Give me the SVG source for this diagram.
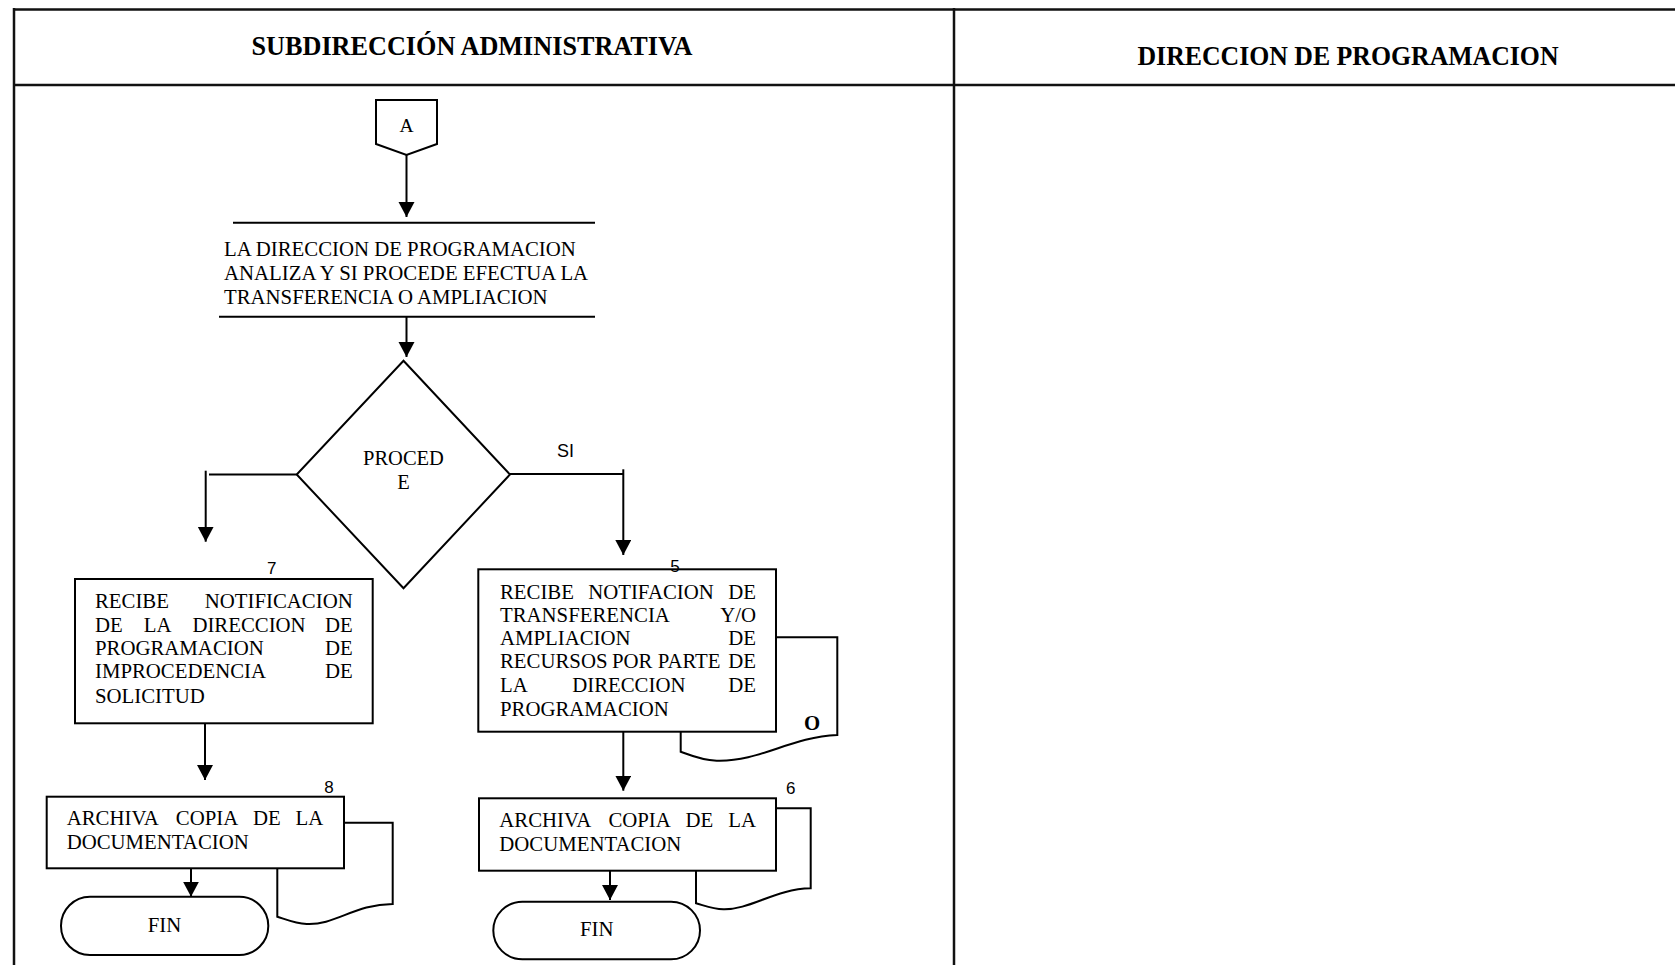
<svg xmlns="http://www.w3.org/2000/svg" width="1675" height="965" viewBox="0 0 1675 965">
  <style>
    .frame { stroke: #111; stroke-width: 2.5; fill: none; }
    .shape { stroke: #000; stroke-width: 2; fill: #fff; }
    .doc { stroke: #000; stroke-width: 2; fill: #fff; }
    .conn { stroke: #000; stroke-width: 2; fill: none; }
    .hdr { font-family: "Liberation Serif", "Times New Roman", serif; font-weight: bold; font-size: 28px; fill: #000; }
    .txt { font-family: "Liberation Serif", "Times New Roman", serif; font-size: 20.8px; fill: #000; }
    .num { font-family: "Liberation Sans", Arial, sans-serif; font-size: 17px; fill: #000; }
    .mid { text-anchor: middle; }
    .end { text-anchor: end; }
  </style>
  <defs>
    <marker id="arrow" markerUnits="userSpaceOnUse" markerWidth="18" markerHeight="18" refX="15" refY="8" orient="auto">
      <path d="M0,0 L15,8 L0,16 Z" fill="#000"/>
    </marker>
  </defs>

  <rect width="1675" height="965" fill="#fff"/>

  <!-- swimlane table -->
  <g id="lanes">
    <line class="frame" x1="14" y1="9.5" x2="1675" y2="9.5"/>
    <line class="frame" x1="14" y1="85" x2="1675" y2="85"/>
    <line class="frame" x1="14" y1="8" x2="14" y2="965"/>
    <line class="frame" x1="954" y1="8" x2="954" y2="965"/>
    <text class="hdr mid" x="472" y="55" textLength="441" lengthAdjust="spacingAndGlyphs">SUBDIRECCIÓN ADMINISTRATIVA</text>
    <text class="hdr mid" x="1348" y="65" textLength="421" lengthAdjust="spacingAndGlyphs">DIRECCION DE PROGRAMACION</text>
  </g>

  <!-- connectors -->
  <g id="connectors">
    <line class="conn" x1="406.5" y1="155" x2="406.5" y2="217" marker-end="url(#arrow)"/>
    <line class="conn" x1="406.5" y1="316.7" x2="406.5" y2="357" marker-end="url(#arrow)"/>
    <line class="conn" x1="296.7" y1="474.5" x2="209" y2="474.5"/>
    <line class="conn" x1="205.7" y1="470.7" x2="205.7" y2="541.7" marker-end="url(#arrow)"/>
    <line class="conn" x1="510" y1="474" x2="623.3" y2="474"/>
    <line class="conn" x1="623.3" y1="469.3" x2="623.3" y2="555" marker-end="url(#arrow)"/>
    <text class="num" x="557" y="456.5" style="font-size:18px">SI</text>
    <line class="conn" x1="205" y1="723.3" x2="205" y2="780" marker-end="url(#arrow)"/>
    <line class="conn" x1="191" y1="868.3" x2="191" y2="896.7" marker-end="url(#arrow)"/>
    <line class="conn" x1="623.3" y1="731.7" x2="623.3" y2="790.7" marker-end="url(#arrow)"/>
    <line class="conn" x1="610" y1="870.7" x2="610" y2="900" marker-end="url(#arrow)"/>
  </g>

  <!-- off-page connector A -->
  <g id="conector-a">
    <polygon class="shape" points="376,100 437,100 437,144 406.5,155 376,144"/>
    <text class="txt mid" x="406.5" y="131.5" style="font-size:19.5px">A</text>
  </g>

  <!-- step: analysis by programming office -->
  <g id="analiza">
    <line class="conn" x1="233" y1="222.7" x2="595" y2="222.7"/>
    <line class="conn" x1="219" y1="316.7" x2="595" y2="316.7"/>
    <text class="txt" x="224" y="256">LA DIRECCION DE PROGRAMACION</text>
    <text class="txt" x="224" y="279.8">ANALIZA Y SI PROCEDE EFECTUA LA</text>
    <text class="txt" x="224" y="303.5">TRANSFERENCIA O AMPLIACION</text>
  </g>

  <!-- decision -->
  <g id="procede">
    <polygon class="shape" points="403.5,360.7 510,474.5 403.5,588.3 296.7,474.5"/>
    <text class="txt mid" x="403.5" y="465" style="font-size:20.5px">PROCED</text>
    <text class="txt mid" x="403.5" y="489.3" style="font-size:20.5px">E</text>
  </g>

  <!-- step 7 -->
  <g id="paso-7">
    <rect class="shape" x="75" y="579" width="297.7" height="144.3"/>
    <text class="num mid" x="271.7" y="574">7</text>
    <text class="txt" x="95" y="608.3">RECIBE</text>
    <text class="txt end" x="352.7" y="608.3">NOTIFICACION</text>
    <text class="txt" x="95" y="631.7">DE</text>
    <text class="txt" x="143.7" y="631.7">LA</text>
    <text class="txt" x="192.4" y="631.7">DIRECCION</text>
    <text class="txt end" x="352.7" y="631.7">DE</text>
    <text class="txt" x="95" y="655">PROGRAMACION</text>
    <text class="txt end" x="352.7" y="655">DE</text>
    <text class="txt" x="95" y="678.3">IMPROCEDENCIA</text>
    <text class="txt end" x="352.7" y="678.3">DE</text>
    <text class="txt" x="95" y="702.7">SOLICITUD</text>
  </g>

  <!-- step 8 with document -->
  <g id="paso-8">
    <path class="doc" d="M277.3,916.7 V822.7 H392.7 V904 C355,904 335,925.5 306.7,924 C295,923.5 285,919 277.3,916.7 Z"/>
    <rect class="shape" x="46.7" y="796.7" width="297.3" height="71.6"/>
    <text class="num mid" x="329" y="793.3">8</text>
    <text class="txt" x="66.7" y="825">ARCHIVA</text>
    <text class="txt" x="175.8" y="825">COPIA</text>
    <text class="txt" x="253" y="825">DE</text>
    <text class="txt end" x="323.3" y="825">LA</text>
    <text class="txt" x="66.7" y="849.3">DOCUMENTACION</text>
  </g>

  <g id="fin-1">
    <rect class="shape" x="61" y="896.7" width="207.3" height="58.3" rx="29" ry="29"/>
    <text class="txt mid" x="164.5" y="932">FIN</text>
  </g>

  <!-- step 5 with document -->
  <g id="paso-5">
    <path class="doc" d="M680.7,751.7 V637.3 H837.3 V735 C790,737 760,762 716.7,760.7 C700,760 690,755 680.7,751.7 Z"/>
    <text class="txt mid" x="812" y="730" style="font-weight:bold">O</text>
    <rect class="shape" x="478.3" y="569.3" width="297.7" height="162.4"/>
    <text class="num mid" x="675" y="571.7">5</text>
    <text class="txt" x="500" y="599">RECIBE</text>
    <text class="txt" x="588.2" y="599">NOTIFACION</text>
    <text class="txt end" x="756" y="599">DE</text>
    <text class="txt" x="500" y="621.7">TRANSFERENCIA</text>
    <text class="txt end" x="756" y="621.7">Y/O</text>
    <text class="txt" x="500" y="645">AMPLIACION</text>
    <text class="txt end" x="756" y="645">DE</text>
    <text class="txt" x="500" y="668.3">RECURSOS</text>
    <text class="txt" x="611.9" y="668.3">POR</text>
    <text class="txt" x="657.8" y="668.3">PARTE</text>
    <text class="txt end" x="756" y="668.3">DE</text>
    <text class="txt" x="500" y="691.7">LA</text>
    <text class="txt" x="572.2" y="691.7">DIRECCION</text>
    <text class="txt end" x="756" y="691.7">DE</text>
    <text class="txt" x="500" y="715.7">PROGRAMACION</text>
  </g>

  <!-- step 6 with document -->
  <g id="paso-6">
    <path class="doc" d="M696,903.3 V808.3 H810.7 V888.3 C775,889 750,910 723.3,909.3 C712,909 703,905 696,903.3 Z"/>
    <rect class="shape" x="479" y="798.3" width="297" height="72.4"/>
    <text class="num mid" x="790.7" y="793.5">6</text>
    <text class="txt" x="499.3" y="826.7">ARCHIVA</text>
    <text class="txt" x="608.4" y="826.7">COPIA</text>
    <text class="txt" x="685.6" y="826.7">DE</text>
    <text class="txt end" x="756" y="826.7">LA</text>
    <text class="txt" x="499.3" y="850.7">DOCUMENTACION</text>
  </g>

  <g id="fin-2">
    <rect class="shape" x="493.3" y="901.7" width="206.7" height="57.6" rx="29" ry="29"/>
    <text class="txt mid" x="596.7" y="936">FIN</text>
  </g>
</svg>
